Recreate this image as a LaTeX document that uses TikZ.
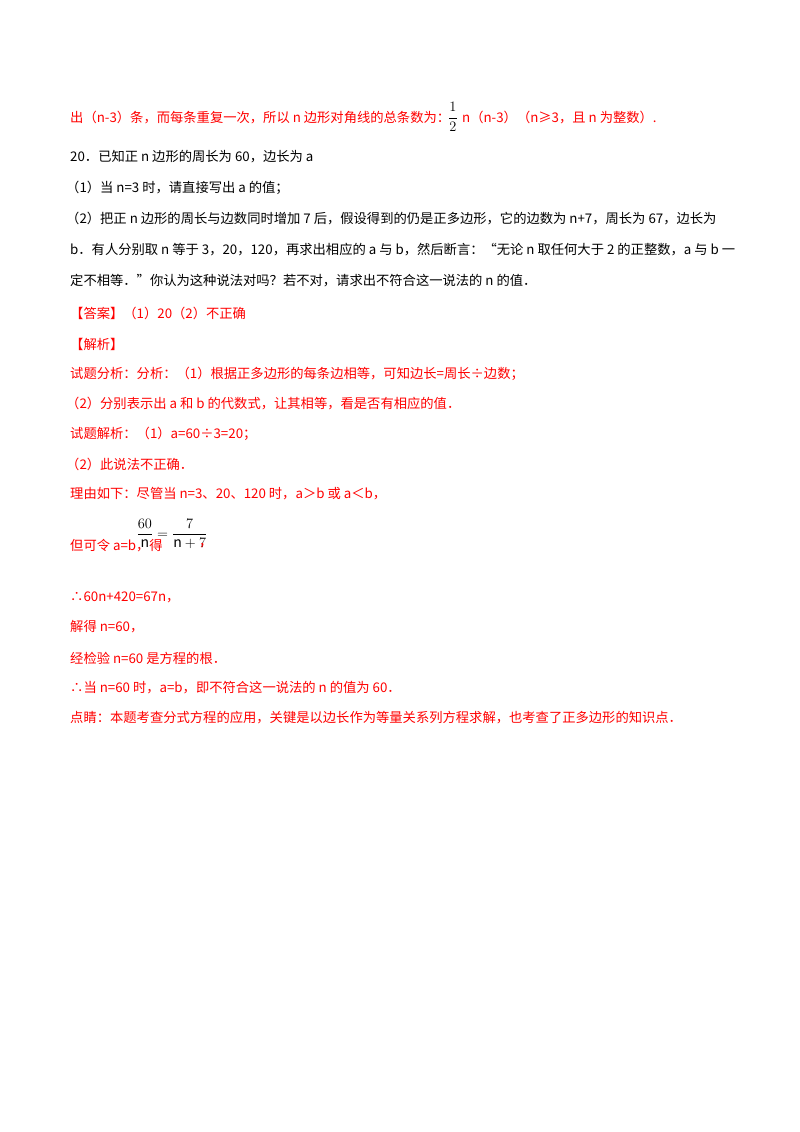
\documentclass[tikz,border=0pt]{standalone}
\usepackage{fontspec}
\setmainfont{Noto Sans CJK SC}
\begin{document}
\begin{tikzpicture}[x=1pt,y=-1pt,
  t/.style={anchor=west,inner sep=0pt,font=\fontsize{13.3}{15}\selectfont},
  r/.style={t,text=red},
  b/.style={t,text=black}]
\useasboundingbox[fill=white] (0,0) rectangle (800,1132);
\node[r] (l1) at (70,118) {出（n-3）条，而每条重复一次，所以 n 边形对角线的总条数为：};
\node[r,anchor=center,font=\fontsize{14}{16}\selectfont,text=black] (f1) at (453,117) {$\displaystyle\frac{1}{2}$};
\node[r] (l1b) at (462,118) {n（n-3）（n≥3，且 n 为整数）.};
\node[b] (l2) at (70,157) {20．已知正 n 边形的周长为 60，边长为 a};
\node[b] (l3) at (66,188) {（1）当 n=3 时，请直接写出 a 的值；};
\node[b] (l4) at (66,219) {（2）把正 n 边形的周长与边数同时增加 7 后，假设得到的仍是正多边形，它的边数为 n+7，周长为 67，边长为};
\node[b] (l5) at (70,250) {b．有人分别取 n 等于 3，20，120，再求出相应的 a 与 b，然后断言：“无论 n 取任何大于 2 的正整数，a 与 b 一};
\node[b] (l6) at (70,281) {定不相等．”你认为这种说法对吗？若不对，请求出不符合这一说法的 n 的值．};
\node[r] (l7) at (70,313) {【答案】（1）20（2）不正确};
\node[r] (l8) at (70,344) {【解析】};
\node[r] (l9) at (70,374) {试题分析：分析：（1）根据正多边形的每条边相等，可知边长=周长÷边数；};
\node[r] (l10) at (66,404) {（2）分别表示出 a 和 b 的代数式，让其相等，看是否有相应的值．};
\node[r] (l11) at (70,434) {试题解析：（1）a=60÷3=20；};
\node[r] (l12) at (66,464) {（2）此说法不正确．};
\node[r] (l13) at (70,494) {理由如下：尽管当 n=3、20、120 时，a＞b 或 a＜b，};
\node[r] (l14) at (70,546) {但可令 a=b，得};
\node[r,anchor=center,font=\fontsize{14}{18}\selectfont,text=black] (eq) at (172,534) {$\displaystyle\frac{60}{\mathrm{n}}=\frac{7}{\mathrm{n}+7}$};
\node[r] (l14b) at (199,546) {，};
\node[r] (l15) at (70,597) {∴60n+420=67n，};
\node[r] (l16) at (70,627) {解得 n=60，};
\node[r] (l17) at (70,658) {经检验 n=60 是方程的根．};
\node[r] (l18) at (70,688) {∴当 n=60 时，a=b，即不符合这一说法的 n 的值为 60．};
\node[r] (l19) at (70,718) {点睛：本题考查分式方程的应用，关键是以边长作为等量关系列方程求解，也考查了正多边形的知识点．};
\end{tikzpicture}
\end{document}
